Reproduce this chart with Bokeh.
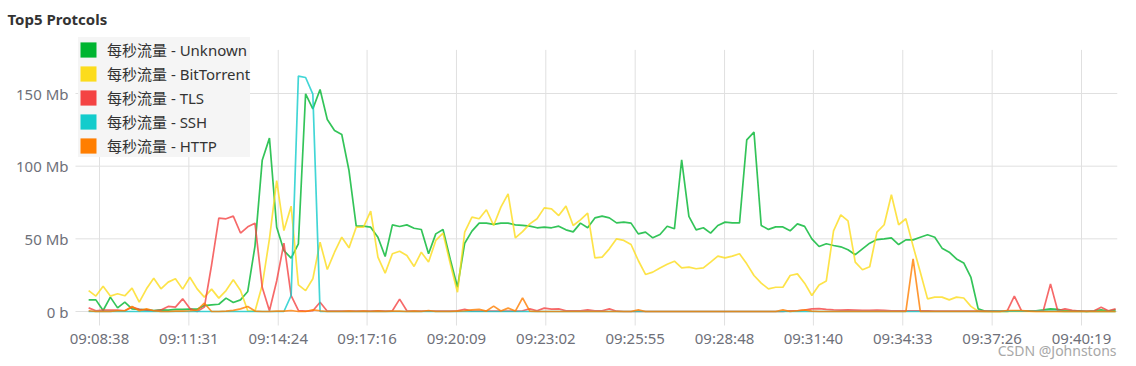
import pandas as pd
from bokeh.plotting import figure
from bokeh.models import Range1d, FixedTicker, ColumnDataSource, Legend, LegendItem
from bokeh.core.properties import value
from bokeh.embed import file_html
from bokeh.resources import INLINE

# ---------------- data ----------------
series_names = ["每秒流量 - Unknown", "每秒流量 - BitTorrent", "每秒流量 - TLS",
                "每秒流量 - SSH", "每秒流量 - HTTP"]
series_colors = ["#00b530", "#fcdc1c", "#f44343", "#13cccc", "#ff7e00"]

# sample timestamps (one every 14 s)
times = pd.date_range("2023-05-01 09:08:17", periods=143, freq="14s")

tick_labels = ["09:08:38", "09:11:31", "09:14:24", "09:17:16", "09:20:09", "09:23:02",
               "09:25:55", "09:28:48", "09:31:40", "09:34:33", "09:37:26", "09:40:19"]
y_tick_values = [0, 50, 100, 150]
y_tick_labels = ["0 b", "50 Mb", "100 Mb", "150 Mb"]
y_axis_max = 180  # top of the value axis (Mb)
watermark = "CSDN @Johnstons"

# values in Mb per second
unknown = [
    8.0, 8.0, 0.7, 9.9, 2.5, 6.4, 1.8, 1.4, 1.1, 0.7,
    1.1, 0.9, 1.4, 1.4, 1.6, 1.6, 4.1, 4.6, 5.0, 9.2,
    6.2, 8.0, 13.8, 45.0, 104.0, 119.3, 58.0, 41.9, 36.7, 46.6,
    149.8, 139.4, 152.8, 132.1, 124.5, 121.8, 97.0, 58.7, 58.7, 58.0,
    51.1, 37.8, 59.6, 58.5, 59.6, 57.3, 56.4, 39.7, 53.4, 56.4,
    36.0, 16.7, 47.0, 55.3, 60.8, 60.8, 59.9, 60.8, 60.8, 59.6,
    59.2, 58.7, 57.6, 58.0, 57.6, 58.7, 56.2, 54.8, 60.8, 57.6,
    64.4, 65.6, 64.4, 61.0, 61.5, 60.8, 53.4, 54.6, 50.7, 53.0,
    58.7, 56.9, 104.4, 65.4, 56.2, 57.6, 53.9, 59.2, 61.5, 61.0,
    61.0, 118.1, 123.4, 59.2, 56.5, 58.2, 58.2, 55.5, 60.3, 58.6,
    50.0, 44.7, 46.6, 45.4, 44.5, 42.5, 39.1, 43.1, 47.0, 49.5,
    50.0, 50.7, 46.1, 49.3, 49.3, 51.1, 52.8, 51.1, 43.6, 40.8,
    36.2, 33.4, 23.4, 1.8, 0.2, 0.0, 0.0, 0.0, 0.5, 0.5,
    0.5, 0.5, 1.1, 1.8, 1.5, 0.5, 0.5, 0.5, 0.0, 0.5,
    1.1, 0.2, 1.1,
]
bittorrent = [
    14.4, 10.6, 17.4, 10.6, 12.2, 10.8, 16.1, 6.4, 15.6, 22.9,
    15.6, 20.2, 22.5, 15.4, 23.6, 15.6, 9.9, 15.4, 9.2, 14.4,
    21.8, 14.4, 0.5, 0.2, 18.0, 50.0, 90.1, 55.7, 72.5, 18.3,
    14.4, 22.5, 47.7, 28.9, 40.8, 51.1, 43.8, 58.0, 58.0, 69.0,
    37.4, 26.4, 39.7, 41.5, 38.5, 31.0, 40.8, 34.0, 48.9, 53.9,
    33.0, 13.3, 54.6, 64.9, 63.8, 70.0, 59.2, 71.8, 81.0, 50.7,
    55.0, 60.3, 63.8, 71.3, 70.6, 66.0, 72.5, 59.2, 63.1, 67.7,
    36.9, 37.4, 43.1, 50.0, 48.9, 46.1, 35.1, 25.5, 27.1, 30.0,
    32.5, 34.6, 30.0, 30.5, 29.4, 30.0, 34.0, 38.1, 36.9, 38.1,
    39.7, 32.8, 24.8, 19.5, 15.6, 16.7, 16.7, 24.8, 25.9, 19.5,
    11.0, 18.3, 21.0, 55.5, 66.5, 62.4, 34.0, 28.7, 30.8, 54.6,
    59.7, 80.3, 59.7, 63.8, 45.0, 27.0, 8.7, 9.9, 9.9, 8.0,
    9.9, 9.3, 3.5, 0.2, 0.0, 0.0, 0.0, 0.0, 0.0, 0.0,
    0.0, 0.0, 0.0, 0.0, 0.0, 0.0, 0.0, 0.0, 0.0, 0.0,
    0.0, 0.0, 0.0,
]
tls = [
    2.5, 0.5, 1.0, 1.0, 1.0, 0.5, 3.0, 1.5, 1.0, 0.5,
    1.0, 3.5, 3.0, 8.7, 2.0, 0.0, 3.0, 32.0, 64.2, 63.8,
    65.6, 54.0, 58.3, 60.8, 16.7, 0.5, 21.0, 47.0, 11.0, 0.7,
    0.2, 0.5, 6.4, 0.2, 0.3, 0.3, 0.3, 0.3, 0.3, 0.3,
    0.5, 0.2, 0.5, 8.5, 0.5, 0.3, 0.3, 0.3, 0.3, 0.3,
    0.3, 0.5, 1.5, 0.3, 0.3, 0.3, 0.3, 0.3, 0.3, 0.3,
    0.5, 1.8, 0.5, 2.3, 1.6, 1.8, 0.5, 0.5, 0.5, 1.1,
    0.5, 0.5, 1.8, 0.2, 0.0, 0.0, 0.0, 0.0, 0.0, 0.0,
    0.0, 0.0, 0.0, 0.0, 0.0, 0.0, 0.0, 0.0, 0.0, 0.0,
    0.0, 0.0, 0.0, 0.0, 0.0, 0.0, 0.0, 0.5, 0.5, 1.0,
    1.8, 2.0, 1.4, 1.1, 1.0, 1.1, 1.0, 0.8, 0.8, 1.0,
    0.8, 0.5, 0.5, 0.5, 0.5, 0.5, 0.5, 0.3, 0.3, 0.3,
    0.3, 0.3, 0.3, 0.3, 0.3, 0.5, 0.3, 0.3, 10.6, 0.5,
    0.3, 0.3, 0.5, 19.0, 0.5, 1.8, 0.8, 0.3, 0.3, 0.3,
    3.0, 0.5, 1.8,
]
ssh = [
    0.0, 0.0, 0.0, 0.0, 0.0, 0.0, 0.0, 0.0, 0.0, 0.0,
    0.0, 0.0, 0.0, 0.0, 0.0, 0.0, 0.0, 0.0, 0.0, 0.0,
    0.0, 0.0, 0.0, 0.0, 0.0, 0.0, 0.0, 0.0, 11.0, 162.0,
    161.0, 149.6, 0.0, 0.0, 0.0, 0.0, 0.0, 0.0, 0.0, 0.0,
    0.0, 0.0, 0.0, 0.0, 0.0, 0.0, 0.0, 0.0, 0.0, 0.0,
    0.0, 0.0, 0.0, 0.0, 0.0, 0.0, 0.0, 0.0, 0.0, 0.0,
    0.0, 0.0, 0.0, 0.0, 0.0, 0.0, 0.0, 0.0, 0.0, 0.0,
    0.0, 0.0, 0.0, 0.0, 0.0, 0.0, 0.0, 0.0, 0.0, 0.0,
    0.0, 0.0, 0.0, 0.0, 0.0, 0.0, 0.0, 0.0, 0.0, 0.0,
    0.0, 0.0, 0.0, 0.0, 0.0, 0.0, 0.0, 0.0, 0.0, 0.0,
    0.0, 0.0, 0.0, 0.0, 0.0, 0.0, 0.0, 0.0, 0.0, 0.0,
    0.0, 0.0, 0.0, 0.0, 0.0, 0.0, 0.0, 0.0, 0.0, 0.0,
    0.0, 0.0, 0.0, 0.0, 0.0, 0.3, 0.3, 0.3, 0.3, 0.3,
    0.3, 0.3, 0.3, 0.3, 0.3, 0.0, 0.0, 0.0, 0.0, 0.0,
    0.0, 0.0, 0.0,
]
http = [
    0.5, 0.0, 0.0, 0.0, 0.5, 0.5, 3.5, 0.5, 1.8, 0.5,
    0.0, 0.0, 0.3, 0.3, 0.5, 1.0, 5.7, 0.0, 0.0, 0.3,
    0.8, 1.8, 3.4, 0.3, 0.0, 0.0, 0.3, 0.3, 0.7, 0.0,
    0.0, 1.1, 0.5, 0.0, 0.0, 0.0, 0.3, 0.0, 0.3, 0.0,
    0.3, 0.0, 0.3, 0.3, 0.0, 0.3, 0.0, 0.7, 0.0, 0.0,
    0.0, 0.3, 0.5, 1.1, 1.5, 0.3, 3.7, 0.3, 2.3, 0.3,
    9.4, 0.2, 0.0, 0.0, 0.0, 0.0, 0.0, 0.0, 0.0, 0.0,
    0.0, 0.0, 0.0, 0.0, 0.0, 0.0, 1.1, 0.0, 0.0, 0.0,
    0.0, 0.0, 0.0, 0.0, 0.0, 0.0, 0.0, 0.0, 0.0, 0.0,
    0.0, 0.0, 0.0, 0.0, 0.0, 0.0, 1.1, 0.0, 0.5, 1.1,
    0.3, 0.0, 0.0, 0.0, 0.0, 0.0, 0.0, 0.0, 0.0, 0.0,
    0.0, 0.0, 0.0, 0.0, 36.2, 0.0, 0.0, 0.0, 0.0, 0.0,
    0.0, 0.0, 0.0, 0.0, 0.0, 0.0, 0.0, 0.7, 0.7, 0.7,
    0.3, 0.0, 0.0, 0.0, 0.0, 0.0, 0.0, 0.0, 0.0, 0.0,
    0.0, 0.0, 0.0,
]

# ---------------- layout constants ----------------
DAY = "2023-05-01 "
t0 = pd.Timestamp(DAY + tick_labels[0])
PX_PER_MB = 1.4533          # vertical scale of the value axis
PLOT_TOP, ZERO_Y, CANVAS_H = 33, 311, 366
x_range = Range1d(t0 - pd.Timedelta(seconds=60.0), t0 + pd.Timedelta(seconds=1970.7))
y_range = Range1d(-(CANVAS_H - ZERO_Y) / PX_PER_MB, (ZERO_Y - PLOT_TOP) / PX_PER_MB)
grid_left = t0 - pd.Timedelta(seconds=46.5)     # where the horizontal split lines start
tick_bottom = -14 / PX_PER_MB                   # split lines run 14 px below the zero line

FONT = "Noto Sans, Noto Sans CJK SC"
LABEL_COLOR = "#6e7079"
GRID = "#e0e0e0"

p = figure(width=1136, height=CANVAS_H, x_range=x_range, y_range=y_range,
           x_axis_location=None, output_backend="svg", toolbar_location=None,
           min_border_left=68, min_border_right=19, min_border_top=PLOT_TOP,
           min_border_bottom=0)
p.outline_line_color = None
p.background_fill_color = "white"
p.border_fill_color = "white"
p.xgrid.visible = False
p.ygrid.visible = False

# title
p.title.text = "Top5 Protcols"
p.title.text_font = FONT
p.title.text_font_size = "15px"
p.title.text_font_style = "bold"
p.title.text_color = "#333333"
p.title.align = "left"
p.title.offset = -61
p.title.standoff = 10

# value axis
yt = FixedTicker(ticks=y_tick_values)
p.yaxis.ticker = yt
p.yaxis.major_label_overrides = dict(zip(y_tick_values, y_tick_labels))
p.yaxis.axis_line_color = None
p.yaxis.major_tick_line_color = None
p.yaxis.major_tick_out = 0
p.yaxis.minor_tick_line_color = None
p.yaxis.major_label_standoff = 0
p.yaxis.major_label_text_font = FONT
p.yaxis.major_label_text_font_size = "15px"
p.yaxis.major_label_text_color = LABEL_COLOR

# split lines
n_y = len(y_tick_values)
p.segment(x0=[grid_left] * n_y, x1=[x_range.end] * n_y, y0=y_tick_values, y1=y_tick_values,
          line_color=GRID, line_width=1, level="underlay")
tick_dt = [pd.Timestamp(DAY + s) for s in tick_labels]
n_x = len(tick_dt)
p.segment(x0=tick_dt, x1=tick_dt, y0=[tick_bottom] * n_x, y1=[y_axis_max] * n_x,
          line_color=GRID, line_width=1, level="underlay")

# time axis labels
p.text(x=tick_dt, y=[0] * n_x, text=tick_labels, y_offset=26,
       text_align="center", text_baseline="middle", text_font=value(FONT),
       text_font_size="15px", text_color=LABEL_COLOR)

# lines
src = ColumnDataSource(dict(t=times, unknown=unknown, bittorrent=bittorrent, tls=tls,
                            ssh=ssh, http=http))
cols = ["unknown", "bittorrent", "tls", "ssh", "http"]
for c, color in zip(cols, series_colors):
    p.line(x="t", y=c, source=src, line_color=color, line_width=1.7, line_alpha=0.8)

# legend with square swatches (dummy, invisible quads)
nan = float("nan")
items = []
for name, color in zip(series_names, series_colors):
    r = p.quad(left=[nan], right=[nan], top=[nan], bottom=[nan], fill_color=color,
               line_color=None)
    items.append(LegendItem(label=name, renderers=[r]))
legend = Legend(items=items, location=(10, 209), orientation="vertical",
                glyph_width=20, glyph_height=19, label_height=24, spacing=0,
                padding=1, margin=0, label_standoff=9,
                label_text_font=FONT, label_text_font_size="15px", label_text_color="#333333",
                background_fill_color="#f5f5f5", background_fill_alpha=1.0,
                border_line_color=None)
p.add_layout(legend)

# watermark (bottom right)
p.text(x=[x_range.end], y=[0], text=[watermark], x_offset=-1, y_offset=39,
       text_align="right", text_baseline="middle", text_font=value(FONT),
       text_font_size="14px", text_color="#a8a8a8")

open("out.html", "w").write(file_html(p, INLINE))
